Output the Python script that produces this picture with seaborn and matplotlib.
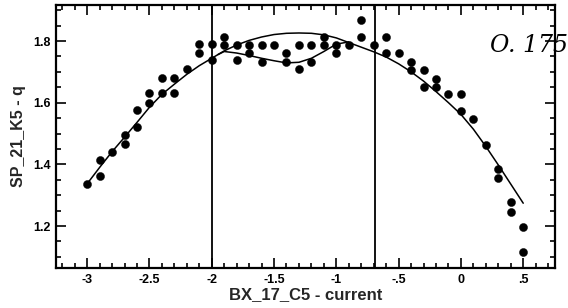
import numpy as np
import pandas as pd
import seaborn as sns
import matplotlib
matplotlib.use('Agg')
import matplotlib.pyplot as plt
from matplotlib.ticker import MultipleLocator, FixedLocator, FixedFormatter

# measured points (current, q)
x_pts = [-3.0, -2.9, -2.9, -2.8, -2.7, -2.7, -2.6, -2.6, -2.5, -2.5,
         -2.4, -2.4, -2.3, -2.3, -2.2, -2.1, -2.1, -2.0, -2.0, -1.9,
         -1.9, -1.8, -1.8, -1.7, -1.7, -1.6, -1.6, -1.5, -1.4, -1.4,
         -1.3, -1.3, -1.2, -1.2, -1.1, -1.1, -1.0, -1.0, -0.9, -0.8,
         -0.8, -0.7, -0.6, -0.6, -0.5, -0.4, -0.4, -0.3, -0.3, -0.2,
         -0.2, -0.1, 0.0, 0.0, 0.1, 0.2, 0.3, 0.3, 0.4, 0.4, 0.5, 0.5]
y_pts = [1.335, 1.362, 1.414, 1.439, 1.466, 1.495, 1.520, 1.576, 1.600, 1.630,
         1.630, 1.679, 1.630, 1.679, 1.708, 1.762, 1.789, 1.738, 1.789, 1.787,
         1.814, 1.738, 1.787, 1.760, 1.787, 1.733, 1.787, 1.787, 1.733, 1.760,
         1.708, 1.787, 1.733, 1.787, 1.787, 1.814, 1.760, 1.787, 1.787, 1.814,
         1.868, 1.787, 1.760, 1.814, 1.760, 1.706, 1.733, 1.652, 1.706, 1.652,
         1.677, 1.627, 1.573, 1.627, 1.546, 1.464, 1.355, 1.384, 1.247, 1.277,
         1.117, 1.198]

# smooth fit curve
fit_x = [-3.0, -2.9, -2.8, -2.7, -2.6, -2.5, -2.4, -2.3, -2.2, -2.1,
         -2.0, -1.9, -1.8, -1.7, -1.6, -1.5, -1.4, -1.3, -1.2, -1.1,
         -1.0, -0.9, -0.8, -0.7, -0.6, -0.5, -0.4, -0.3, -0.2, -0.1,
         0.0, 0.1, 0.2, 0.3, 0.4, 0.5]
fit_y = [1.337, 1.390, 1.441, 1.488, 1.536, 1.585, 1.627, 1.660, 1.692, 1.720,
         1.744, 1.768, 1.787, 1.802, 1.813, 1.821, 1.825, 1.826, 1.825, 1.820,
         1.810, 1.795, 1.780, 1.765, 1.748, 1.726, 1.700, 1.670, 1.636, 1.600,
         1.562, 1.514, 1.458, 1.398, 1.336, 1.274]

# second fit, wiggle between the two markers
wig_x = [-1.95, -1.9, -1.8, -1.7, -1.6, -1.5, -1.4, -1.3, -1.2, -1.1, -1.0, -0.9]
wig_y = [1.756, 1.766, 1.761, 1.753, 1.744, 1.736, 1.729, 1.731, 1.744, 1.766, 1.790, 1.797]

marker_x = [-2.0, -0.69]

xtick_vals = [-3, -2.5, -2, -1.5, -1, -0.5, 0, 0.5]
xtick_labels = ['-3', '-2.5', '-2', '-1.5', '-1', '-.5', '0', '.5']
ytick_vals = [1.2, 1.4, 1.6, 1.8]
ytick_labels = ['1.2', '1.4', '1.6', '1.8']

sns.set_theme(style='ticks')
plt.rcParams['font.family'] = ['Liberation Sans', 'DejaVu Sans']
plt.rcParams['font.weight'] = 'bold'

fig = plt.figure(figsize=(5.68, 3.08), dpi=100)
ax = fig.add_axes([0.0986, 0.130, 0.8785, 0.854])

pts = pd.DataFrame({'x': x_pts, 'y': y_pts})
fit = pd.DataFrame({'x': fit_x, 'y': fit_y})
wig = pd.DataFrame({'x': wig_x, 'y': wig_y})

sns.lineplot(data=fit, x='x', y='y', ax=ax, color='black', linewidth=1.1,
             estimator=None, sort=False)
sns.lineplot(data=wig, x='x', y='y', ax=ax, color='black', linewidth=1.1,
             estimator=None, sort=False)
sns.scatterplot(data=pts, x='x', y='y', ax=ax, color='black', s=34,
                edgecolor='black', linewidth=0.3, zorder=3)

for xv in marker_x:
    ax.axvline(xv, color='black', linewidth=1.3)

ax.set_xlim(-3.25, 0.755)
ax.set_ylim(1.064, 1.917)

ax.xaxis.set_major_locator(FixedLocator(xtick_vals))
ax.xaxis.set_major_formatter(FixedFormatter(xtick_labels))
ax.xaxis.set_minor_locator(MultipleLocator(0.1))
ax.yaxis.set_major_locator(FixedLocator(ytick_vals))
ax.yaxis.set_major_formatter(FixedFormatter(ytick_labels))
ax.yaxis.set_minor_locator(MultipleLocator(0.05))

ax.tick_params(which='both', direction='in', top=True, right=True,
               width=1.2, colors='black', labelsize=9, pad=4)
ax.tick_params(which='major', length=7)
ax.tick_params(which='minor', length=3.5)
for lab in ax.get_xticklabels() + ax.get_yticklabels():
    lab.set_fontweight('bold')

for sp in ax.spines.values():
    sp.set_linewidth(1.6)
    sp.set_color('black')

ax.set_xlabel('BX_17_C5 - current', fontsize=12, fontweight='bold', labelpad=1)
ax.set_ylabel('SP_21_K5 - q', fontsize=11.5, fontweight='bold', labelpad=5)

# handwritten note on the scan
fig.text(0.862, 0.83, 'O. 175', fontsize=17, style='italic',
         family=['DejaVu Serif'], fontweight='light', color='black')

fig.savefig('out.png', dpi=100)
